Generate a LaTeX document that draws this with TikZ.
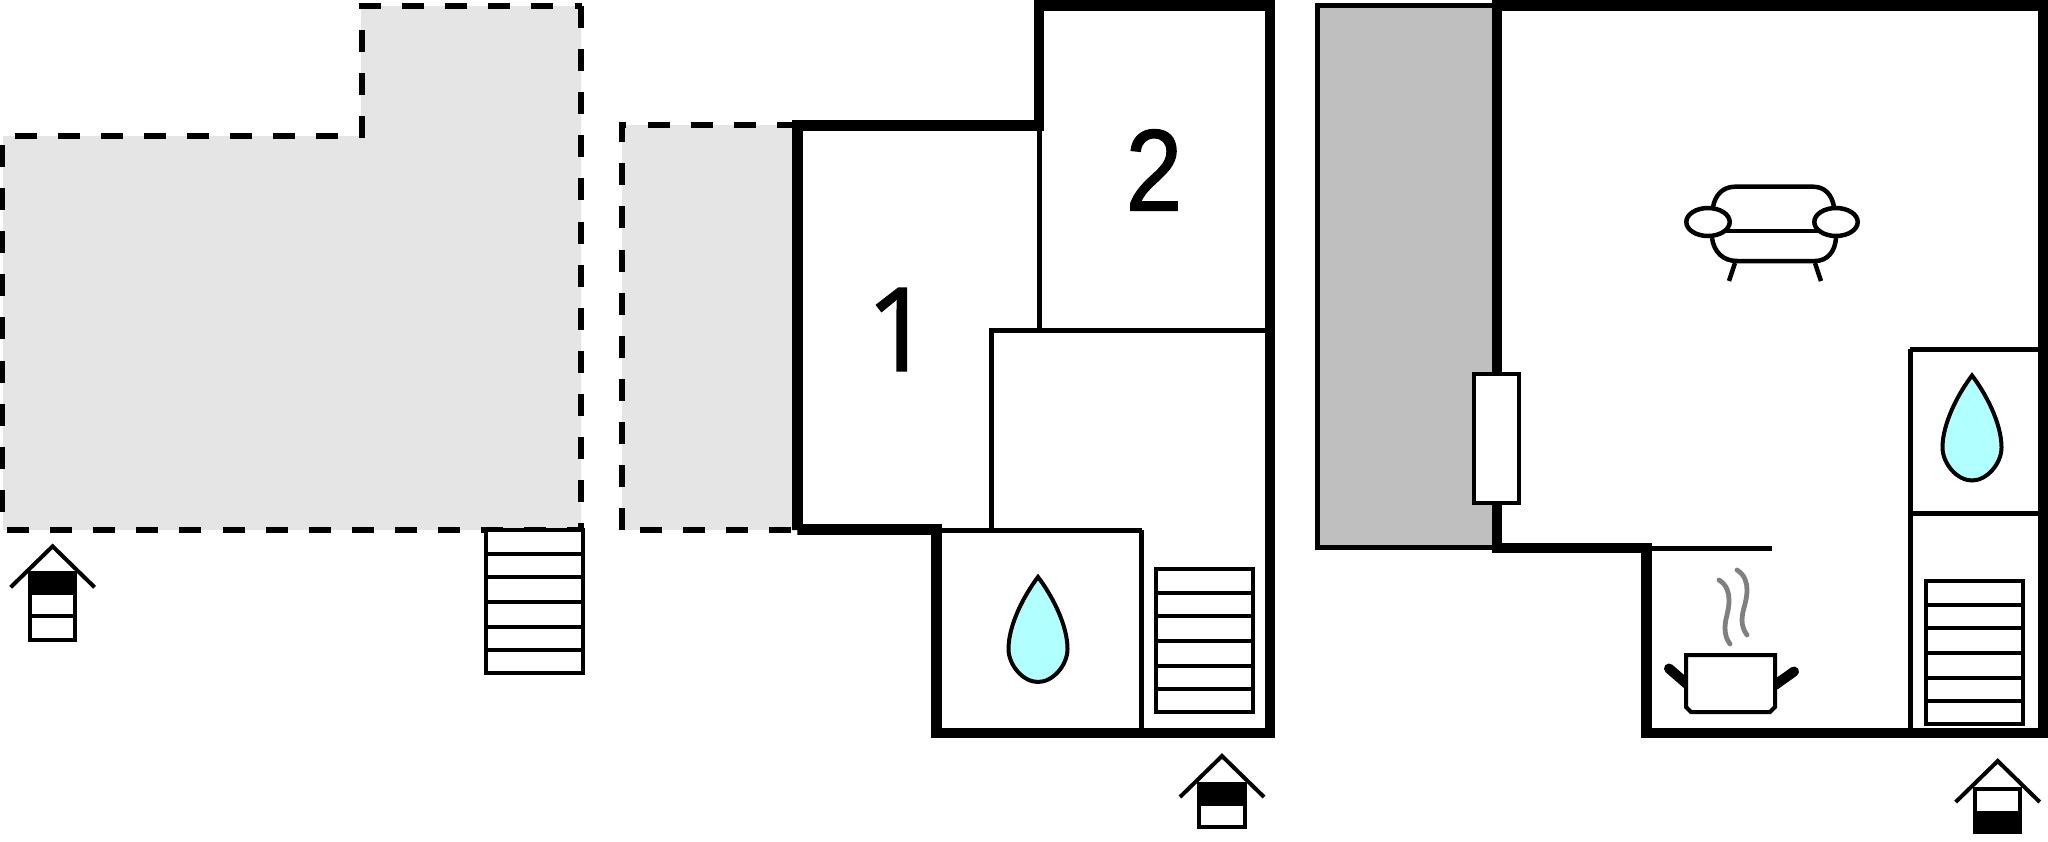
\documentclass[tikz,border=0pt]{standalone}
\usepackage{fontspec}
\setmainfont{Liberation Sans}
\newfontfamily\onefont[FakeBold=1.2]{Open Sans}
\newfontfamily\twofont[FakeBold=1.2]{Liberation Sans}
\definecolor{dropcyan}{HTML}{B2FFFF}
\definecolor{lightgrey}{HTML}{E5E5E5}
\definecolor{midgrey}{HTML}{BFBFBF}
\definecolor{steamgrey}{HTML}{808080}
\tikzset{
  wall/.style={line width=5.4pt,line join=miter,line cap=butt},
  thin wall/.style={line width=2.5pt,line cap=butt},
  sym/.style={line width=2pt,line join=miter},
  dashh/.style={line width=3pt,dash pattern=on 11pt off 10.55pt},
  dashv/.style={line width=2.8pt,dash pattern=on 11pt off 10.55pt},
  digit/.style={font=\fontsize{58pt}{58pt}\selectfont,inner sep=0pt},
}
\newcommand{\stairsat}[2]{% origin at top-left, centre lines
  \begin{scope}[shift={(#1,#2)}]
    \draw[sym,fill=white] (0,0) rectangle (97,143);
    \draw[sym] (0,24) -- (97,24) (0,47) -- (97,47) (0,72) -- (97,72) (0,97) -- (97,97) (0,120) -- (97,120);
  \end{scope}}
\newcommand{\dropat}[3]{%
  \draw[sym,fill=dropcyan,shift={(#1,#2)},miter limit=4]
    (0,0) .. controls (13,17) and (29.5,47) .. (29.5,72)
    .. controls (29.5,88) and (15,#3) .. (0,#3)
    .. controls (-15,#3) and (-29.5,88) .. (-29.5,72)
    .. controls (-29.5,47) and (-13,17) .. (0,0) -- cycle;}
\newcommand{\roofat}[2]{%
  \draw[sym,shift={(#1,#2)}] (-42,44) -- (0,3) -- (42,44);}
\begin{document}
\begin{tikzpicture}[x=0.5pt,y=-0.5pt]
\useasboundingbox[clip] (0,0) rectangle (2048,841);
% --- first plan: terraces
\fill[lightgrey] (3,136) -- (361,136) -- (361,6) -- (581,6) -- (581,530) -- (3,530) -- cycle;
\draw[dashh] (359,6) -- (582,6);
\draw[dashv] (581,6) -- (581,530);
\draw[dashh] (7,530) -- (581,530);
\draw[dashh] (14.7,136) -- (340,136);
\draw[dashv] (362,30) -- (362,138);
\draw[dashv] (2,145) -- (2,530);
\stairsat{486}{530}
% entry icon A
\roofat{52.6}{543.3}
\draw[sym,fill=white] (29.7,572.5) rectangle (75.3,640);
\fill (27.7,570.7) rectangle (77.3,595);
\draw[sym] (29.7,616) -- (75.3,616);
% --- second plan
\fill[lightgrey] (622,125) rectangle (797,530);
\draw[dashh] (619,125) -- (626,125);
\draw[dashh] (648,125) -- (797,125);
\draw[dashh] (640,530) -- (797,530);
\draw[dashv] (622,122.5) -- (622,142);
\draw[dashv] (622,163.3) -- (622,530);
\draw[thin wall] (942,530) -- (1142,530) (1141.7,530) -- (1141.7,733);
\draw[thin wall] (991.7,330) -- (991.7,530);
\draw[thin wall] (989.2,330) -- (1270,330);
\draw[thin wall] (1039.7,125) -- (1039.7,330);
\draw[wall] (797.5,530) -- (797.5,125.3) -- (1039,125.3) -- (1039,5.5) -- (1270,5.5) -- (1270,733) -- (936.5,733) -- (936.5,529.5) -- (797.5,529.5) -- cycle;
\dropat{1038}{577}{105}
\stairsat{1156}{569}
% entry icon B
\roofat{1222}{753}
\draw[sym,fill=white] (1199,784) rectangle (1245,827);
\fill (1197,782) rectangle (1247,805.5);
\node[digit] (roomone) at (899,329.5) {\onefont 1};
\node[digit,xscale=0.88] (roomtwo) at (1154,170) {\twofont 2};
% --- third plan
\fill[midgrey] (1317.7,5) rectangle (1497,548);
\draw[thin wall] (1497,5) -- (1317.7,5) -- (1317.7,547.7) -- (1497,547.7);
\draw[thin wall] (1650,548) -- (1771.7,548);
\draw[thin wall] (1910.7,349) -- (1910.7,733);
\draw[thin wall] (1909.5,349) -- (2043,349) (1911,513) -- (2043,513);
\draw[wall] (2043,5.5) -- (1497,5.5) -- (1497,548) -- (1646.7,548) -- (1646.7,733) -- (2043,733) -- cycle;
\draw[sym,fill=white] (1474,374) rectangle (1519,503);
\dropat{1972}{375.5}{105}
\stairsat{1925.7}{580.7}
% entry icon C
\roofat{1997.7}{758}
\draw[sym,fill=white] (1975,789) rectangle (2020,832);
\fill (1973,810.7) rectangle (2022,834);
% sofa
\begin{scope}[line width=2.25pt]
  \draw (1713,207) .. controls (1715,195) and (1723,186.7) .. (1735,186.7) -- (1813,186.7) .. controls (1825,186.7) and (1832,195) .. (1834,207);
  \draw (1712,238) .. controls (1714,252) and (1723,261) .. (1737,261) -- (1815,261) .. controls (1827,261) and (1835,252) .. (1836,238);
  \draw (1725,231) -- (1822,231);
  \draw (1735,263) -- (1729,281);
  \draw (1815,263) -- (1821,281);
  \draw[fill=white] (1708,222) ellipse [x radius=21.7,y radius=14];
  \draw[fill=white] (1836,222) ellipse [x radius=21.7,y radius=14];
\end{scope}
% pot
\draw[line width=5pt,line cap=round] (1688,685) -- (1669,668.5);
\draw[line width=5pt,line cap=round] (1775,685) -- (1794,671.5);
\draw[sym,fill=white] (1686,655) -- (1775,655) -- (1775,707) -- (1770,712) -- (1691,712) -- (1686,707) -- cycle;
\draw[steamgrey,line width=2.4pt,line cap=round] (1719,580) .. controls (1727,585) and (1729,593) .. (1729,600) .. controls (1729,612) and (1725,618) .. (1725,628) .. controls (1725,635) and (1727,640) .. (1730,644);
\draw[steamgrey,line width=2.4pt,line cap=round] (1737,570) .. controls (1745,575) and (1747,583) .. (1747,590) .. controls (1747,602) and (1742,610) .. (1742,620) .. controls (1742,626) and (1744,631) .. (1747,635);
\end{tikzpicture}
\end{document}
